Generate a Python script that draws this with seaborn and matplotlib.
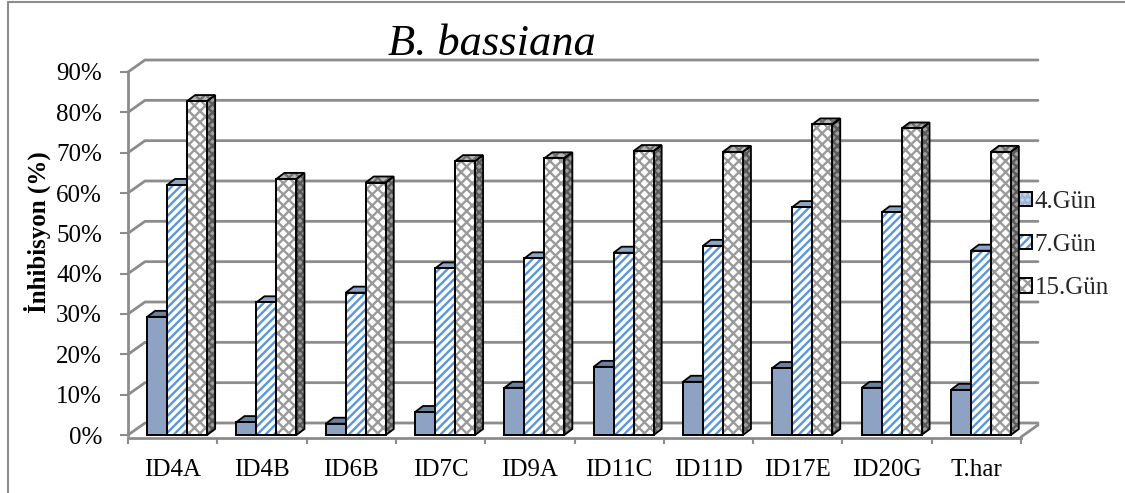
import numpy as np
import pandas as pd
import seaborn as sns
import matplotlib
matplotlib.use("Agg")
import matplotlib.pyplot as plt
from matplotlib.patches import Polygon, Rectangle
from matplotlib.lines import Line2D
from matplotlib.transforms import IdentityTransform
from matplotlib.ticker import PercentFormatter
from matplotlib.legend_handler import HandlerTuple

# ---------------- data ----------------
categories = ["ID4A", "ID4B", "ID6B", "ID7C", "ID9A", "ID11C", "ID11D", "ID17E", "ID20G", "T.har"]
series_names = ["4.Gün", "7.Gün", "15.Gün"]
gun4 = [0.293, 0.032, 0.028, 0.057, 0.117, 0.169, 0.132, 0.166, 0.117, 0.112]
gun7 = [0.620, 0.329, 0.353, 0.413, 0.438, 0.452, 0.469, 0.565, 0.552, 0.457]
gun15 = [0.828, 0.635, 0.626, 0.679, 0.686, 0.704, 0.702, 0.770, 0.760, 0.702]
y_ticks = [0.0, 0.1, 0.2, 0.3, 0.4, 0.5, 0.6, 0.7, 0.8, 0.9]
title_text = "B. bassiana"
ylabel_text = "İnhibisyon (%)"

# ---------------- style ----------------
sns.set_theme(style="white")
plt.rcParams["font.family"] = ["Liberation Serif", "DejaVu Serif"]
plt.rcParams["hatch.linewidth"] = 1.7

front_fill = ["#8EA3C3", "#FFFFFF", "#FFFFFF"]
front_hatch = ["", "////", "xxx"]
hatch_col = ["#8EA3C3", "#5A96DA", "#9A9A9A"]
top_fill = ["#6A819F", "#8FA6C2", "#B5B5B5"]
top_hatch = ["", "", "xxx"]
top_hcol = ["#6A819F", "#8FA6C2", "#707070"]
side_fill = ["#5C7190", "#7F95B2", "#A0A0A0"]
side_hatch = ["", "", "xxxx"]
side_hcol = ["#5C7190", "#7F95B2", "#5A5A5A"]
grid_col = "#8C8C8C"

W, H, DPI = 1125, 493, 100
fig = plt.figure(figsize=(W / DPI, H / DPI), dpi=DPI)
fig.patch.set_facecolor("white")

x_left, x_right, y_bot, y_top = 128, 1021, 435, 72
ax = fig.add_axes([x_left / W, (H - y_bot) / H, (x_right - x_left) / W, (y_bot - y_top) / H])
ax.set_facecolor("none")

df = pd.concat([
    pd.DataFrame({"Kategori": categories, "Seri": name, "Deger": vals})
    for name, vals in zip(series_names, [gun4, gun7, gun15])
], ignore_index=True)

sns.barplot(data=df, x="Kategori", y="Deger", hue="Seri", order=categories,
            hue_order=series_names, width=0.672, dodge=True, ax=ax, legend=False,
            palette=front_fill, saturation=1, linewidth=0, errorbar=None)

ax.set_xlim(-0.5, len(categories) - 0.5)
ax.set_ylim(0, 0.9)
ax.set_autoscale_on(False)

# depth offsets in pixels
gx, gy = 17, 12          # back wall
bdx, bdy = 8, 6          # bar depth
shift = 4.5 / ((x_right - x_left) / len(categories))

ident = IdentityTransform()

# back wall gridlines (inside the axes, behind the bars)
for v in y_ticks:
    p = ax.transData.transform((-0.5, v))
    r = ax.transData.transform((len(categories) - 0.5, v))
    xs = [p[0], p[0] + gx, r[0] + gx]
    ys = [p[1], p[1] + gy, r[1] + gy]
    ax.add_line(Line2D(xs, ys, transform=ident, color=grid_col, lw=2.0, zorder=0.5,
                       clip_on=False))
pr = ax.transData.transform((len(categories) - 0.5, 0))
ax.add_line(Line2D([pr[0], pr[0] + gx], [pr[1] - 2, pr[1] + gy - 2], transform=ident,
                   color=grid_col, lw=2.0, zorder=0.5, clip_on=False))

# bars: front faces + 3D faces
for si, cont in enumerate(ax.containers):
    for bar in cont:
        bar.set_x(bar.get_x() + shift)
        bar.set_hatch(front_hatch[si])
        bar.set_edgecolor(hatch_col[si])
        bar.set_linewidth(0)
        bar.set_zorder(3)
        x0, w, h = bar.get_x(), bar.get_width(), bar.get_height()
        a = ax.transData.transform((x0, 0))
        b = ax.transData.transform((x0 + w, h))
        X0, Y0, X1, Y1 = a[0], a[1], b[0], b[1]
        top = [(X0, Y1), (X0 + bdx, Y1 + bdy), (X1 + bdx, Y1 + bdy), (X1, Y1)]
        side = [(X1, Y0), (X1 + bdx, Y0 + bdy), (X1 + bdx, Y1 + bdy), (X1, Y1)]
        for pts, fc, ht, hc in [(side, side_fill[si], side_hatch[si], side_hcol[si]),
                                (top, top_fill[si], top_hatch[si], top_hcol[si])]:
            ax.add_patch(Polygon(pts, closed=True, transform=ident, facecolor=fc,
                                 edgecolor=hc, hatch=ht, lw=0, zorder=2, clip_on=False))
            ax.add_patch(Polygon(pts, closed=True, transform=ident, fill=False,
                                 edgecolor="black", lw=1.3, zorder=2.1, clip_on=False))
        ax.add_patch(Rectangle((x0, 0), w, h, fill=False, edgecolor="black", lw=1.4,
                               zorder=3.2, clip_on=False))

# axes styling
for s in ["top", "right"]:
    ax.spines[s].set_visible(False)
for s in ["left", "bottom"]:
    ax.spines[s].set_color(grid_col)
    ax.spines[s].set_linewidth(2.0)
ax.spines["bottom"].set_position(("outward", 2))

ax.set_yticks(y_ticks)
ax.yaxis.set_major_formatter(PercentFormatter(1.0, decimals=0))
ax.tick_params(axis="y", direction="out", length=5.8, width=1.5, color=grid_col,
               pad=13, labelsize=18, left=True)
ax.set_xticks(range(len(categories)))
ax.set_xticklabels(categories)
ax.set_xticks([i - 0.5 for i in range(len(categories) + 1)], minor=True)
ax.tick_params(axis="x", which="major", length=0, pad=15, labelsize=18)
ax.tick_params(axis="x", which="minor", direction="out", length=4.5, width=1.5,
               color=grid_col, bottom=True)
for lab in ax.get_xticklabels() + ax.get_yticklabels():
    lab.set_color("black")
ax.set_xlabel("")
ax.set_ylabel("")
ax.grid(False)

fig.text(37 / W, 1 - 232 / H, ylabel_text, rotation=90, ha="center", va="center",
         fontsize=18, fontweight="bold", color="black")
fig.text(492 / W, 1 - 55 / H, title_text, ha="center", va="baseline",
         fontsize=32, style="italic", color="black")

# legend
handles = []
for si in range(3):
    f = Rectangle((0, 0), 1, 1, facecolor=front_fill[si] if si != 0 else "#9FB4D6",
                  edgecolor=hatch_col[si] if si != 0 else "#C9D6EA",
                  hatch=["...", "////", "xxx"][si], lw=0)
    o = Rectangle((0, 0), 1, 1, fill=False, edgecolor="black", lw=1.4)
    handles.append((f, o))
fig.legend(handles, series_names, loc="center left",
           bbox_to_anchor=(1019 / W, 1 - 245 / H), frameon=False, fontsize=18,
           handlelength=0.5, handleheight=0.5, handletextpad=0.12,
           labelspacing=0.85, borderaxespad=0, borderpad=0,
           handler_map={tuple: HandlerTuple(ndivide=1)})

# chart border (top and left visible)
fig.add_artist(Line2D([8, W], [H - 2, H - 2], transform=ident, color="#8C8C8C", lw=1.5))
fig.add_artist(Line2D([8, 8], [0, H - 2], transform=ident, color="#8C8C8C", lw=1.5))

fig.savefig("out.png", dpi=DPI)
